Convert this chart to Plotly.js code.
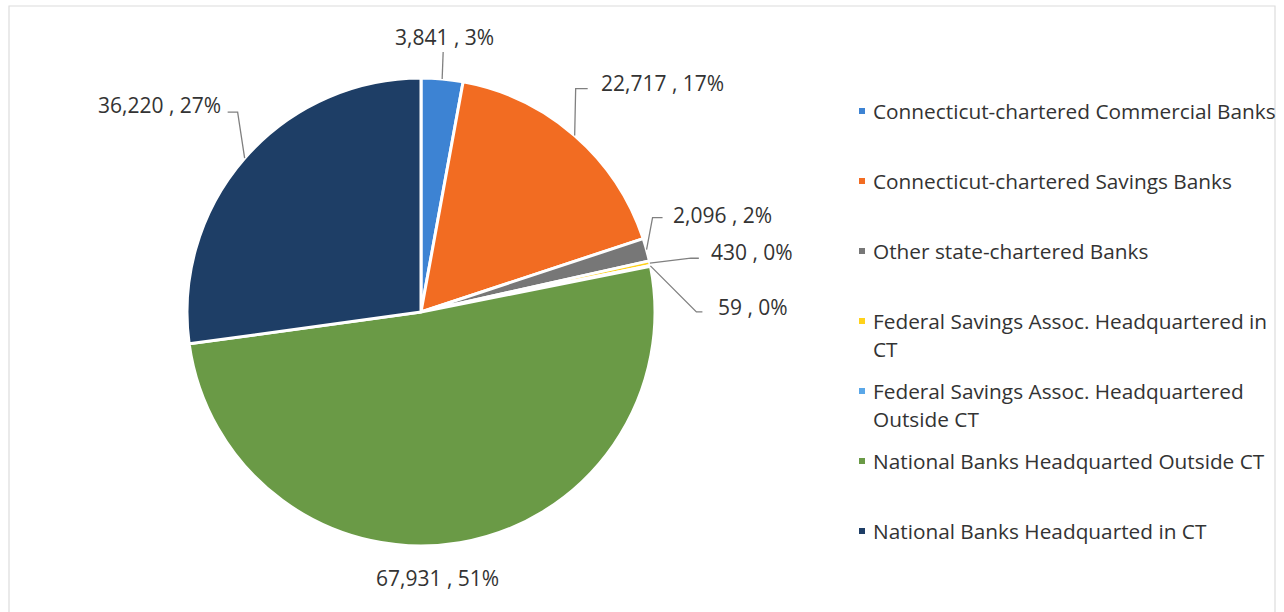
<!DOCTYPE html>
<html>
<head>
<meta charset="utf-8">
<script src="https://cdn.plot.ly/plotly-3.0.1.min.js"></script>
<style>html,body{margin:0;padding:0;background:#fff;}#chart{width:1284px;height:612px;}</style>
</head>
<body>
<div id="chart"></div>
<script>
// ---- data ----
var categories = [
  "Connecticut-chartered Commercial Banks",
  "Connecticut-chartered Savings Banks",
  "Other state-chartered Banks",
  "Federal Savings Assoc. Headquartered in CT",
  "Federal Savings Assoc. Headquartered Outside CT",
  "National Banks Headquarted Outside CT",
  "National Banks Headquarted in CT"
];
var legendLines = [
  ["Connecticut-chartered Commercial Banks"],
  ["Connecticut-chartered Savings Banks"],
  ["Other state-chartered Banks"],
  ["Federal Savings Assoc. Headquartered in", "CT"],
  ["Federal Savings Assoc. Headquartered", "Outside CT"],
  ["National Banks Headquarted Outside CT"],
  ["National Banks Headquarted in CT"]
];
var values = [3841, 22717, 2096, 430, 59, 67931, 36220];
var percentLabels = ["3%", "17%", "2%", "0%", "0%", "51%", "27%"];
var colors = ["#3d83d3", "#f26c22", "#777777", "#ffd21a", "#5aa7e8", "#6a9a46", "#1e3e66"];

// ---- layout constants (pixels) ----
var W = 1284, H = 612;
var CX = 421, CY = 312, R = 234;
var FONT = "'Open Sans', 'Noto Sans', sans-serif";
var TEXTCOL = "#333333";
var LINECOL = "#808080";

function px(x) { return x / W; }
function py(y) { return 1 - y / H; }

// label placement: offset of text from slice edge point, anchor, leader path (offsets)
var labelStyle = [
  {dx: 2,   dy: -42, xa: "center", lead: [[0,0],[1,-27]]},
  {dx: 24,  dy: -53, xa: "left",   lead: [[0,0],[1,-47],[13,-47]]},
  {dx: 24,  dy: -35, xa: "left",   lead: [[0,0],[6,-32],[16,-32]]},
  {dx: 59,  dy: -11, xa: "left",   lead: [[0,0],[41,-5],[49,-5]]},
  {dx: 66,  dy: 41,  xa: "left",   lead: [[0,0],[46,46],[52,46]]},
  {dx: -22, dy: 35,  xa: "center", lead: null},
  {dx: -22, dy: -53, xa: "right",  lead: [[0,0],[-7,-46],[-17,-46]]}
];

var total = values.reduce(function(a, b) { return a + b; }, 0);
function fmt(v) { return v.toLocaleString("en-US"); }

var annotations = [];
var shapes = [];

// frame
shapes.push({type: "rect", xref: "paper", yref: "paper",
  x0: px(9), x1: px(1275), y0: py(650), y1: py(6),
  line: {color: "#dcdcdc", width: 1.2}, fillcolor: "rgba(0,0,0,0)", layer: "below"});

// data labels with leader lines (angles from the data, clockwise from 12 o'clock)
var cum = 0;
values.forEach(function(v, i) {
  var mid = (cum + v / 2) / total * 2 * Math.PI;
  cum += v;
  var ex = CX + Math.sin(mid) * R;
  var ey = CY - Math.cos(mid) * R;
  var s = labelStyle[i];
  annotations.push({
    xref: "paper", yref: "paper",
    x: px(ex + s.dx), y: py(ey + s.dy),
    xanchor: s.xa, yanchor: "middle",
    text: fmt(v) + " , " + percentLabels[i],
    showarrow: false,
    font: {family: FONT, size: 21, color: TEXTCOL}
  });
  if (s.lead) {
    var d = s.lead.map(function(p, k) {
      return (k === 0 ? "M" : "L") + px(ex + p[0]).toFixed(5) + "," + py(ey + p[1]).toFixed(5);
    }).join(" ");
    shapes.push({type: "path", xref: "paper", yref: "paper", path: d,
      line: {color: LINECOL, width: 1.3}});
  }
});

// custom legend
var LEG_X = 862, LEG_Y0 = 111, LEG_STEP = 70, LEG_LINE = 28, SQ = 6;
legendLines.forEach(function(lines, i) {
  var y = LEG_Y0 + i * LEG_STEP;
  shapes.push({type: "rect", xref: "paper", yref: "paper",
    x0: px(LEG_X - SQ / 2), x1: px(LEG_X + SQ / 2),
    y0: py(y + SQ / 2), y1: py(y - SQ / 2),
    fillcolor: colors[i], line: {width: 0}});
  lines.forEach(function(t, j) {
    annotations.push({
      xref: "paper", yref: "paper",
      x: px(LEG_X + 9), y: py(y + j * LEG_LINE),
      xanchor: "left", yanchor: "middle",
      text: t, showarrow: false,
      font: {family: FONT, size: 20.8, color: TEXTCOL}
    });
  });
});

var trace = {
  type: "pie",
  labels: categories,
  values: values,
  sort: false,
  direction: "clockwise",
  rotation: 0,
  textinfo: "none",
  hoverinfo: "label+value+percent",
  showlegend: false,
  marker: {colors: colors, line: {color: "#ffffff", width: 3}},
  domain: {
    x: [px(CX - R), px(CX + R)],
    y: [py(CY + R), py(CY - R)]
  }
};

var layout = {
  width: W, height: H,
  margin: {l: 0, r: 0, t: 0, b: 0},
  paper_bgcolor: "#ffffff",
  showlegend: false,
  annotations: annotations,
  shapes: shapes
};

Plotly.newPlot("chart", [trace], layout, {displayModeBar: false, staticPlot: true});
</script>
</body>
</html>
